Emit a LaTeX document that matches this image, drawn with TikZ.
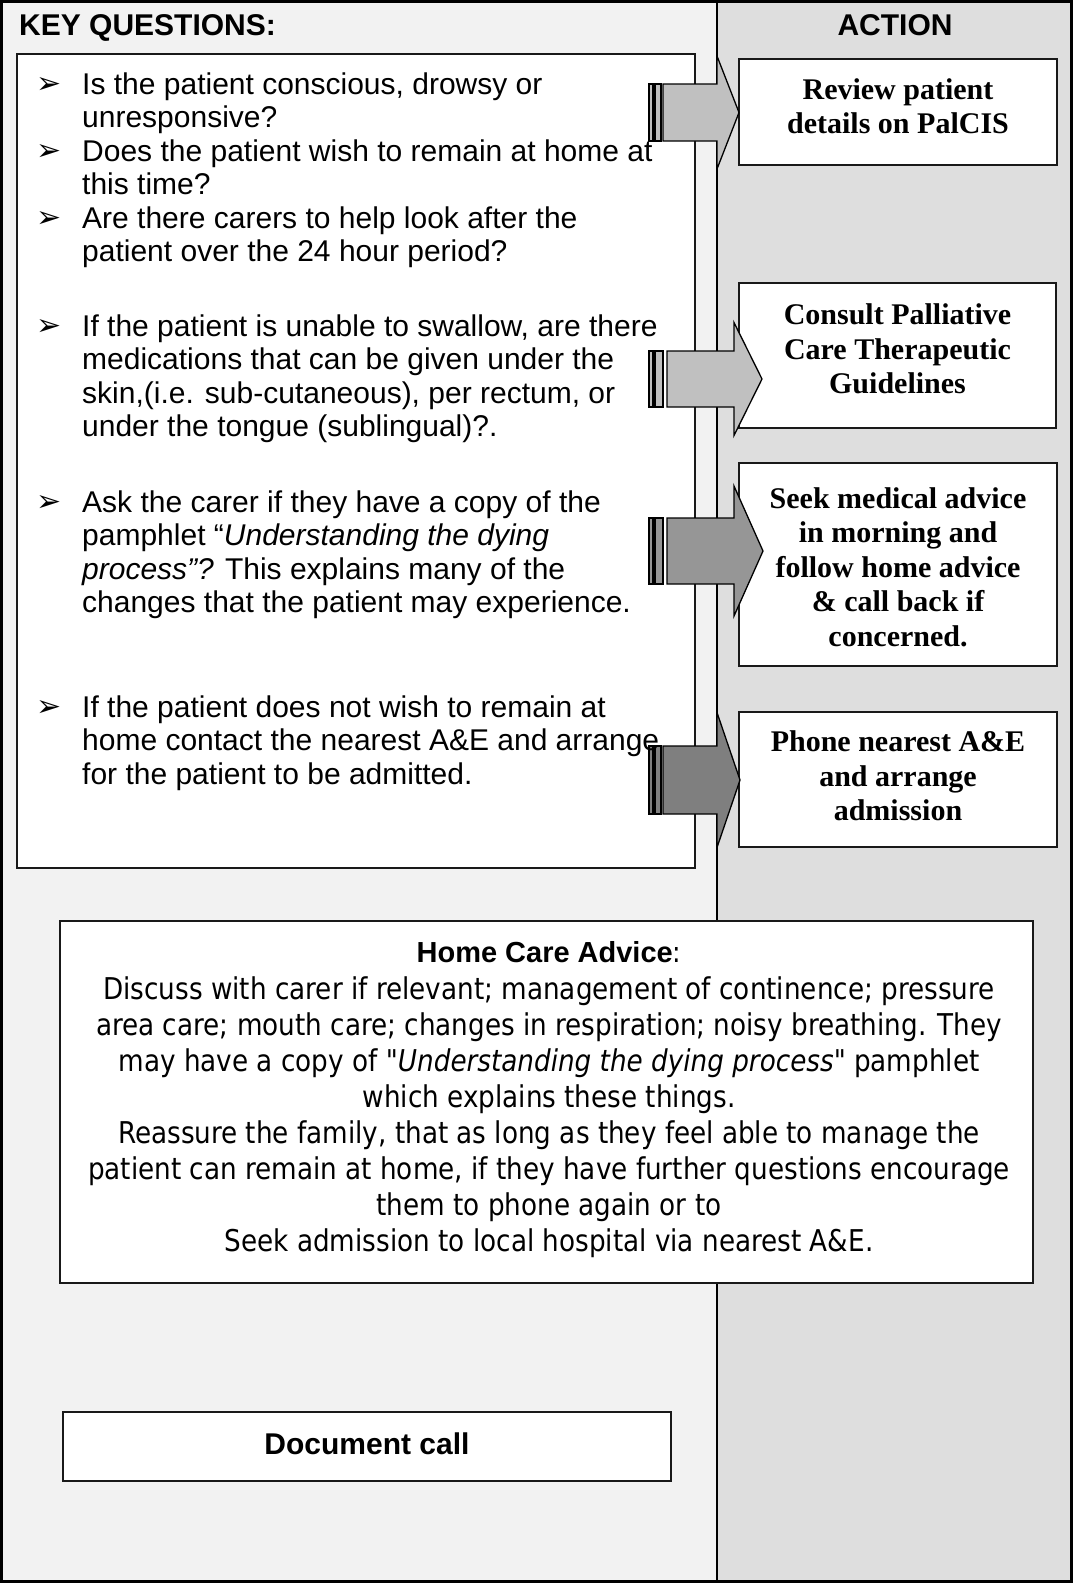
\documentclass[tikz,border=0pt]{standalone}
\usepackage{fontspec}
\setmainfont{Liberation Sans}
\newfontfamily\serifbold{Liberation Serif}
\newfontfamily\tahomalike{DejaVu Sans}[FakeStretch=0.875]
\newfontfamily\dingfont{DejaVu Sans}

\definecolor{leftpanel}{HTML}{F2F2F2}
\definecolor{rightpanel}{HTML}{DEDEDE}
\definecolor{arrowlight}{HTML}{C0C0C0}
\definecolor{arrowmid}{HTML}{969696}
\definecolor{arrowdark}{HTML}{7F7F7F}

\tikzset{
  boxline/.style={draw=black!90, line width=2pt, fill=white, inner sep=0pt},
  arrowline/.style={draw=black, line width=1.3pt, line join=miter},
  headfont/.style={font=\fontsize{30}{34}\selectfont\bfseries},
  % multi-line nodes: the base anchor sits on the last line
  qfont/.style={font=\fontsize{30}{33.5}\selectfont, align=left, inner sep=0pt, anchor=base west},
  bulletmark/.style={font=\dingfont\fontsize{30}{30}\selectfont, inner sep=0pt, anchor=base west},
  actfont/.style={font=\serifbold\bfseries\fontsize{30}{34.5}\selectfont, align=center, inner sep=0pt},
  advicefont/.style={font=\tahomalike\fontsize{30}{36}\selectfont, align=center, inner sep=0pt},
}

% Striped block arrow: #1 centre y, #2 right edge of second stripe, #3 body start,
% #4 body half height, #5 head base x, #6 tip x, #7 head half height, #8 fill
\newcommand\qarrow[8]{%
  \draw[arrowline, fill=#8] (649,#1-#4) rectangle (653,#1+#4);
  \draw[arrowline, fill=#8] (655,#1-#4) rectangle (#2,#1+#4);
  \draw[arrowline, fill=#8] (#3,#1-#4) -- (#5,#1-#4) -- (#5,#1-#7) -- (#6,#1)
      -- (#5,#1+#7) -- (#5,#1+#4) -- (#3,#1+#4) -- cycle;
}

\begin{document}
\begin{tikzpicture}[x=1pt, y=-1pt]
\useasboundingbox (0,0) rectangle (1073,1583);

% column backgrounds
\fill[leftpanel] (0,0) rectangle (717,1583);
\fill[rightpanel] (717,0) rectangle (1073,1583);
\draw[line width=2pt] (717,0) -- (717,1583);
\draw[line width=3pt] (1.5,1.5) rectangle (1071.5,1581.5);

% column headings
\node[headfont, anchor=base west, inner sep=0pt] (keyq) at (19,35) {KEY QUESTIONS:};
\node[headfont, anchor=base, inner sep=0pt] (action) at (895,35) {ACTION};

% question box
\node[boxline, minimum width=678pt, minimum height=814pt] (qbox) at (356,461) {};

% action boxes
\node[boxline, minimum width=318pt, minimum height=106pt] (act1) at (898,112) {};
\node[boxline, minimum width=317pt, minimum height=145pt] (act2) at (897.5,355.5) {};
\node[boxline, minimum width=318pt, minimum height=203pt] (act3) at (898,564.5) {};
\node[boxline, minimum width=318pt, minimum height=135pt] (act4) at (898,779.5) {};

% block arrows from the questions to the actions
\qarrow{112.5}{661}{663}{28.5}{717}{739}{56.5}{arrowlight}
\qarrow{379}{663}{667}{28}{734}{762}{56.5}{arrowlight}
\qarrow{551}{663}{667}{33}{734}{763}{65}{arrowmid}
\qarrow{780}{661}{663}{34}{717}{740}{67.5}{arrowdark}

% action texts
\node[actfont] (act1t) at (898,106) {Review patient\\details on PalCIS};
\node[actfont] (act2t) at (897.5,349) {Consult Palliative\\Care Therapeutic\\Guidelines};
\node[actfont] (act3t) at (898,567) {Seek medical advice\\in morning and\\follow home advice\\\& call back if\\concerned.};
\node[actfont] (act4t) at (898,776) {Phone nearest A\&E\\and arrange\\admission};

% bullets and questions
\node[bulletmark] (b1) at (36,93) {➢};
\node[qfont] (q1) at (82,127.5) {Is the patient conscious, drowsy or\\unresponsive?};
\node[bulletmark] (b2) at (36,160) {➢};
\node[qfont] (q2) at (82,194.5) {Does the patient wish to remain at home at\\this time?};
\node[bulletmark] (b3) at (36,227) {➢};
\node[qfont] (q3) at (82,261.5) {Are there carers to help look after the\\patient over the 24 hour period?};
\node[bulletmark] (b4) at (36,335) {➢};
\node[qfont] (q4) at (82,436.5) {If the patient is unable to swallow, are there\\medications that can be given under the\\skin,(i.e. sub-cutaneous), per rectum, or\\under the tongue (sublingual)?.};
\node[bulletmark] (b5) at (36,511) {➢};
\node[qfont] (q5) at (82,612.5) {Ask the carer if they have a copy of the\\pamphlet “\textit{Understanding the dying}\\\textit{process”?} This explains many of the\\changes that the patient may experience.};
\node[bulletmark] (b6) at (36,716) {➢};
\node[qfont] (q6) at (82,784) {If the patient does not wish to remain at\\home contact the nearest A\&E and arrange\\for the patient to be admitted.};

% home care advice
\node[boxline, minimum width=973pt, minimum height=362pt] (advice) at (546.5,1102) {};
\node[inner sep=0pt] (advhead) at (549,952) {\fontsize{29}{36}\selectfont\bfseries Home Care Advice{\tahomalike\mdseries :}};
\node[advicefont] (advbody) at (549,1117) {Discuss with carer if relevant; management of continence; pressure\\area care; mouth care; changes in respiration; noisy breathing. They\\may have a copy of \textit{"Understanding the dying process"} pamphlet\\which explains these things.\\Reassure the family, that as long as they feel able to manage the\\patient can remain at home, if they have further questions encourage\\them to phone again or to\\Seek admission to local hospital via nearest A\&E.};

% document call
\node[boxline, minimum width=608pt, minimum height=69pt] (doc) at (367,1446.5) {};
\node[headfont, inner sep=0pt] (doct) at (367,1444) {Document call};
\end{tikzpicture}
\end{document}
